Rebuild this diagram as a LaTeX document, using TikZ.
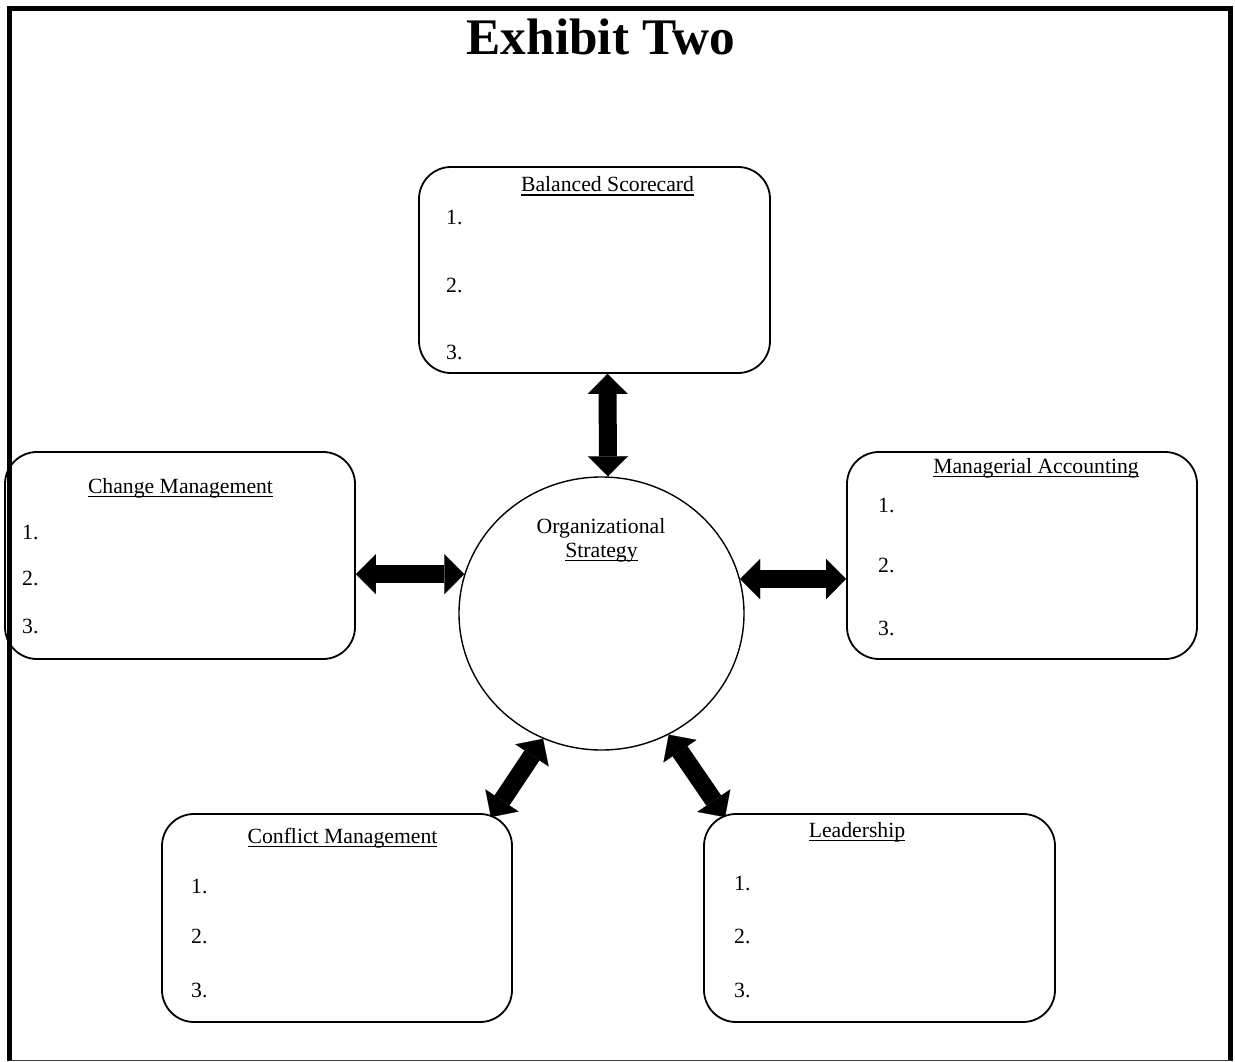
\documentclass[tikz,border=0pt]{standalone}
\usepackage{fontspec}
\setmainfont{Liberation Serif}
\usepackage{tikz}
\usetikzlibrary{arrows.meta,positioning,calc,shapes.geometric}

\newcommand{\undl}[1]{\setbox0\hbox{#1}\rlap{\rule[-4.2pt]{\wd0}{1.7pt}}\box0}

\tikzset{
  card/.style={draw,line width=1.8pt,rounded corners=32pt,inner sep=0pt},
  lbl/.style={inner sep=0pt,font=\fontsize{21.7}{26}\selectfont},
  dbl/.style={line width=18pt,
    {Triangle[length=20pt,width=40pt,line width=0.1pt]}-{Triangle[length=20pt,width=40pt,line width=0.1pt]}}
}

\begin{document}
\begin{tikzpicture}[x=1pt,y=-1pt]

  \useasboundingbox (0,0) rectangle (1235,1062);

  % outer frame
  \draw[line width=5.5pt] (9.5,1061) -- (9.5,8.3) -- (1230.5,8.3) -- (1230.5,1061);
  \draw[line width=1.2pt,black!75] (9.5,1060.5) -- (1230.5,1060.5);

  % heading
  \node[inner sep=0pt,anchor=base,font=\fontsize{51.3}{60}\selectfont\bfseries] (head) at (601,55) {Exhibit Two};

  % five boxes with their lists
  \foreach \n/\cx/\cy/\w/\h/\t/\tx/\ty/\ix/\ya/\yb/\yc in {
      bs/594.5/270/351/206/Balanced Scorecard/607.5/192/446/225/292/359,
      cm/180/555.5/350/207/Change Management/180.5/493/22/539/585/633,
      ma/1022/555.5/350/207/Managerial Accounting/1036/473/878/512/572/635,
      cf/337/918/350/208/Conflict Management/342.5/843/191/893/943/997,
      ld/879.5/918/351/208/Leadership/857/837/734/890/943/997} {
    \node[card,minimum width=\w pt,minimum height=\h pt] (\n) at (\cx,\cy) {};
    \node[lbl,anchor=base] (\n-t) at (\tx,\ty) {\undl{\t}};
    \node[lbl,anchor=base west] (\n-1) at (\ix,\ya) {1.};
    \node[lbl,anchor=base west] (\n-2) at (\ix,\yb) {2.};
    \node[lbl,anchor=base west] (\n-3) at (\ix,\yc) {3.};
  }

  % centre
  \node[ellipse,draw,line width=1.4pt,minimum width=285pt,minimum height=273pt,inner sep=0pt] (org) at (601.5,613.5) {};
  \node[lbl,anchor=base] (org-a) at (601,533) {Organizational};
  \node[lbl,anchor=base] (org-b) at (601.5,557) {\undl{Strategy}};

  % two-way arrows
  \draw[dbl] ($(bs.south)+(13,0)$) -- ($(org.north)+(6.5,0)$);
  \draw[dbl] (cm.east |- org.164) -- (org.164);
  \draw[dbl] (org.14) -- (ma.west |- org.14);
  \draw[dbl] (org.245) -- ($(cf.north east)+(-22,4)$);
  \draw[dbl] (org.299) -- ($(ld.north west)+(22,4)$);

\end{tikzpicture}
\end{document}
